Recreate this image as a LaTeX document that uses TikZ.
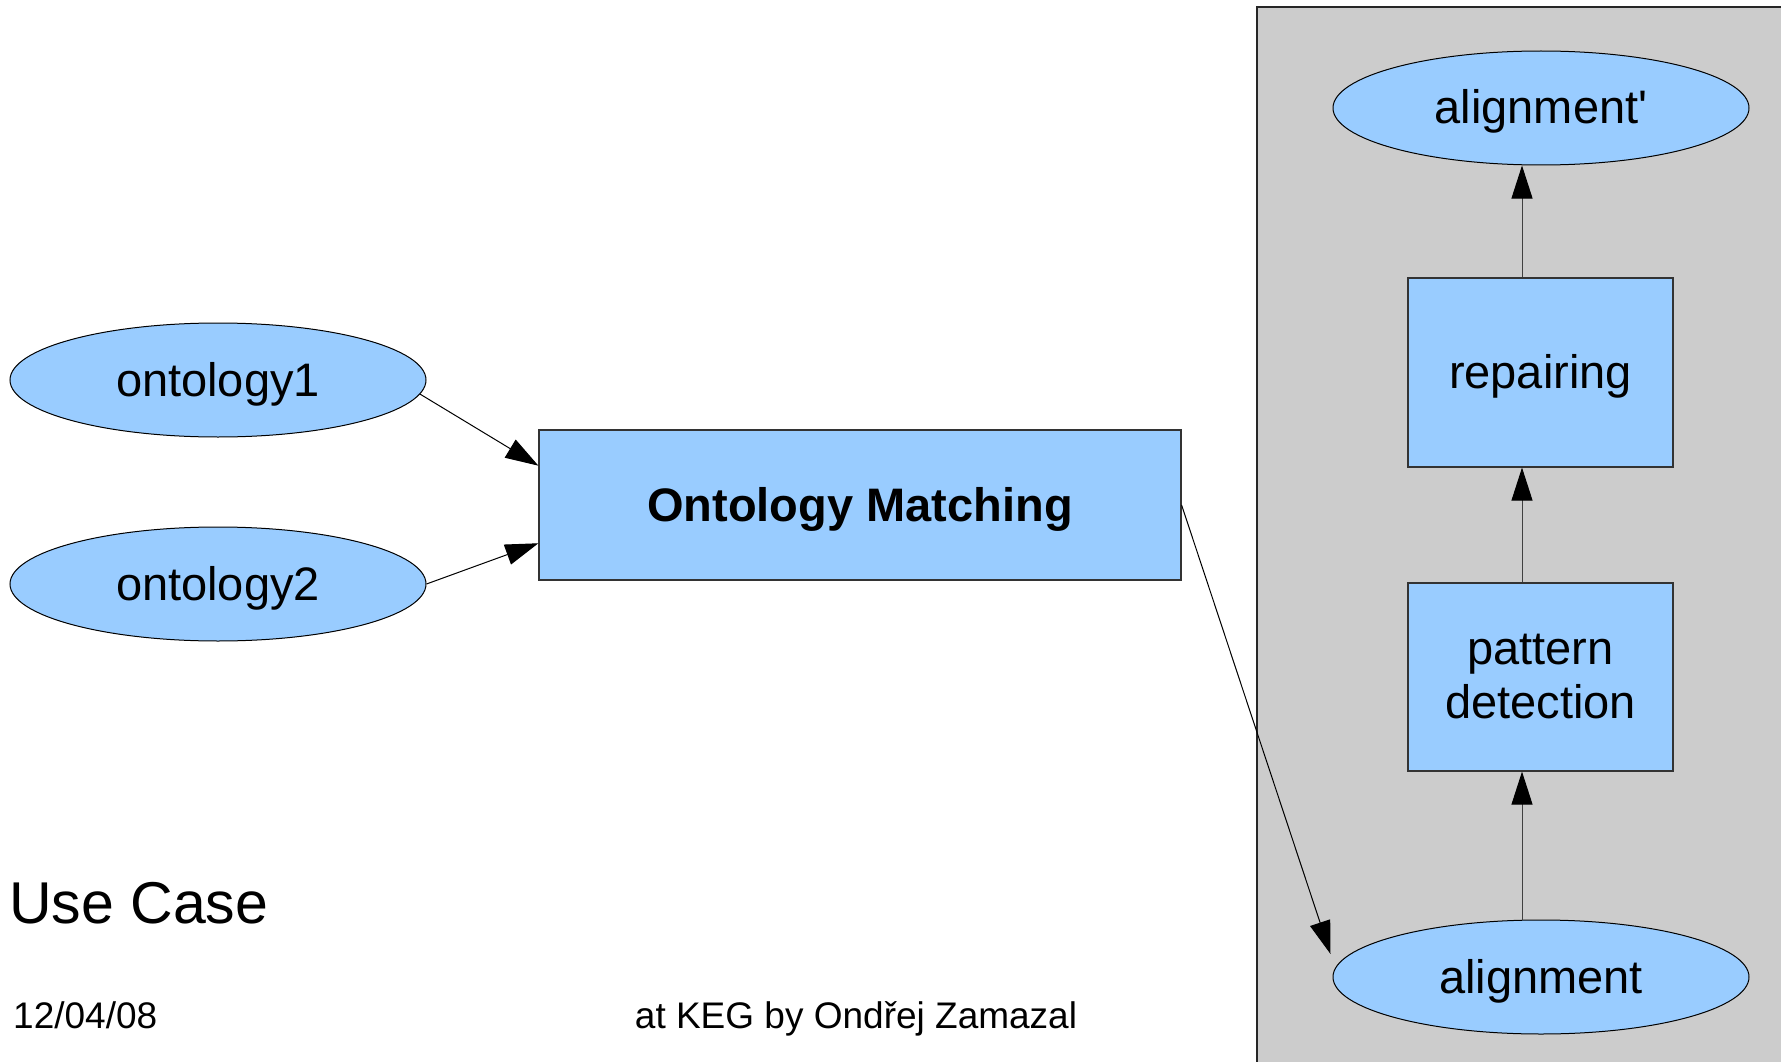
\documentclass[tikz,border=0pt]{standalone}
\usepackage{fontspec}
\setmainfont{Liberation Sans}[Ligatures=TeXOff]
\usetikzlibrary{arrows.meta,shapes.geometric,calc}
\definecolor{nodeblue}{HTML}{99CCFF}
\definecolor{panelgray}{HTML}{CCCCCC}
\begin{document}
\begin{tikzpicture}[x=1pt,y=-1pt,
  ell/.style={ellipse,draw=black,line width=1pt,fill=nodeblue,minimum width=416pt,minimum height=114pt,inner sep=0pt,font=\fontsize{47}{54}\selectfont,text height=42pt,text depth=10pt},
  procbox/.style={rectangle,draw=black!80,line width=1.2pt,fill=nodeblue,inner sep=0pt,font=\fontsize{47}{54}\selectfont,align=center},
  oneline/.style={text height=42pt,text depth=10pt},
  arr/.style={line width=1pt,-{Triangle[length=33pt,width=21pt,color=black]}},
  varr/.style={arr,draw=black!75},
  plain/.style={inner sep=0pt}
]
\useasboundingbox (0,0) rectangle (1781,1062);
\fill[white] (0,0) rectangle (1781,1062);
% panel
\fill[panelgray] (1257,7) rectangle (1795,1075);
\draw[line width=1.2pt,black!85] (1257,1075) -- (1257,7) -- (1795,7);

\node[ell] (o1) at (218,380) {ontology1};
\node[ell] (o2) at (218,584) {ontology2};
\node[procbox,oneline,minimum width=642pt,minimum height=150pt,font=\fontsize{47}{54}\selectfont\bfseries] (om) at (860,505) {Ontology Matching};

\node[ell] (ap) at (1541,108) {alignment'};
\node[procbox,oneline,minimum width=265pt,minimum height=189pt] (rp) at (1540.5,372.5) {repairing};
\node[procbox,minimum width=265pt,minimum height=188pt] (pd) at (1540.5,677) {pattern\\detection};
\node[ell] (al) at (1541,977) {alignment};

\node[plain,anchor=base west,font=\fontsize{59}{70}\selectfont] (uc) at (9,923) {Use Case};
\node[plain,anchor=base west,font=\fontsize{37}{44}\selectfont] (dt) at (13,1028) {12/04/08};
\node[plain,anchor=base,font=\fontsize{37}{44}\selectfont] (au) at (856,1028) {at KEG by Ondřej Zamazal};

\draw[arr] (o1.-4) -- ($(om.north west)!0.24!(om.south west)$);
\draw[arr] (o2.east) -- ($(om.north west)!0.753!(om.south west)$);
\draw[arr] (om.east) -- ($(al.west)+(-2,-23)$);

\coordinate (vx) at (1522,0);
\draw[varr] (al.north -| vx) -- (pd.south -| vx);
\draw[varr] (pd.north -| vx) -- (rp.south -| vx);
\draw[varr] (rp.north -| vx) -- (ap.south -| vx);
\end{tikzpicture}
\end{document}
